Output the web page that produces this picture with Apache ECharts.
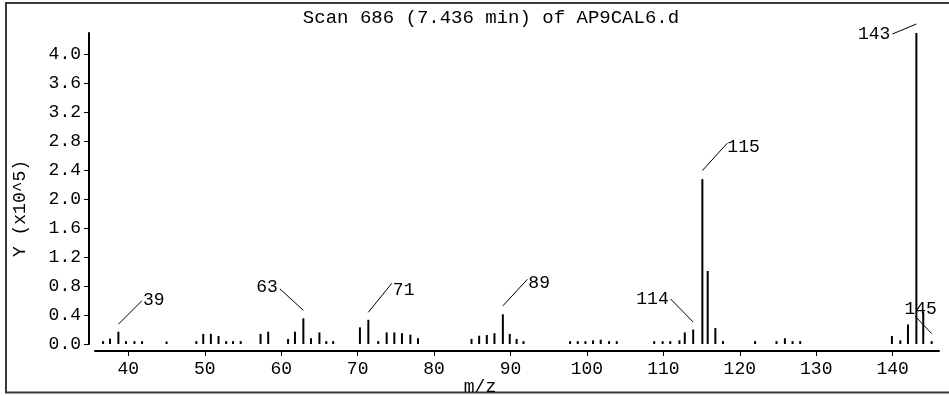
<!DOCTYPE html>
<html>
<head>
<meta charset="utf-8">
<script src="https://cdn.jsdelivr.net/npm/echarts@6/dist/echarts.min.js"></script>
<style>
html,body{margin:0;padding:0;background:#fff;}
#chart{width:949px;height:396px;}
</style>
</head>
<body>
<div id="chart"></div>
<script>
// ---- data ----
const mz = [36.7, 37.6, 38.7, 39.7, 40.8, 41.8, 45.0, 48.9, 49.8, 50.8, 51.8, 52.8, 53.7, 54.7,
  57.3, 58.3, 60.9, 61.8, 62.9, 63.9, 65.0, 65.9, 66.8,
  70.3, 71.4, 72.7, 73.8, 74.8, 75.8, 76.9, 77.9,
  84.9, 85.9, 86.9, 87.9, 89.0, 89.9, 90.8, 91.7,
  97.8, 98.8, 99.8, 100.8, 101.8, 102.9, 103.9,
  108.8, 109.9, 110.9, 112.1, 112.8, 113.9, 115.1, 115.8, 116.8, 117.8,
  122.0, 124.8, 125.9, 126.9, 127.9,
  139.9, 141.0, 142.0, 143.1, 144.0, 145.1];
const intensity = [0.04, 0.075, 0.17, 0.04, 0.04, 0.04, 0.035, 0.04, 0.14, 0.14, 0.11, 0.04, 0.04, 0.04,
  0.14, 0.17, 0.07, 0.17, 0.355, 0.08, 0.16, 0.04, 0.04,
  0.23, 0.335, 0.04, 0.16, 0.16, 0.15, 0.13, 0.08,
  0.07, 0.115, 0.125, 0.15, 0.41, 0.14, 0.07, 0.04,
  0.04, 0.04, 0.04, 0.05, 0.06, 0.04, 0.04,
  0.04, 0.04, 0.04, 0.05, 0.16, 0.2, 2.28, 1.01, 0.22, 0.04,
  0.04, 0.04, 0.08, 0.04, 0.04,
  0.11, 0.05, 0.27, 4.3, 0.44, 0.04];
const labelMz = [39, 63, 71, 89, 114, 115, 143, 145];
const labelText = ['39', '63', '71', '89', '114', '115', '143', '145'];
const xTickValues = [40, 50, 60, 70, 80, 90, 100, 110, 120, 130, 140];
const yTickValues = [0, 0.4, 0.8, 1.2, 1.6, 2.0, 2.4, 2.8, 3.2, 3.6, 4.0];
const titleText = 'Scan 686 (7.436 min) of AP9CAL6.d';
const xName = 'm/z';
const yName = 'Y (x10^5)';

// ---- label leader-line styling (pixel offsets from the peak top) ----
const leader = [
  {sy: -7.5, dx: 23.5, dy: -31, align: 'left', tx: 1, ty: 0},
  {sy: -8, dx: -23.5, dy: -29.5, align: 'right', tx: -2, ty: -2},
  {sy: -7.5, dx: 23.5, dy: -36.5, align: 'left', tx: 1, ty: 6.5},
  {sy: -8.5, dx: 24.5, dy: -35, align: 'left', tx: 1, ty: 4},
  {sy: -7.5, dx: -22.5, dy: -30.5, align: 'right', tx: -2, ty: 0},
  {sy: -8.5, dx: 25, dy: -36, align: 'left', tx: 0, ty: 4.5},
  {sy: -9, dx: -24, dy: 1, align: 'right', tx: -2, ty: 0},
  {sy: -7.5, dx: -16.5, dy: -25, align: 'center', tx: 5.5, ty: -6.5}
];

const FONT = '"Liberation Mono", "DejaVu Sans Mono", monospace';

const barData = mz.map((m, i) => [m, intensity[i]]);
const labelData = labelMz.map((lm, k) => {
  let best = 0, bd = Infinity;
  mz.forEach((m, i) => { const d = Math.abs(m - lm); if (d < bd) { bd = d; best = i; } });
  return [mz[best], intensity[best], k];
});

const chart = echarts.init(document.getElementById('chart'), null, {renderer: 'canvas'});
chart.setOption({
  animation: false,
  backgroundColor: '#fff',
  title: {
    text: titleText,
    left: 486, top: 3, textAlign: 'center',
    textStyle: {fontFamily: FONT, fontSize: 19, fontWeight: 'normal', color: '#000'}
  },
  grid: {left: 95, right: 10, top: 33, bottom: 52, containLabel: false, outerBoundsMode: 'none'},
  xAxis: {
    type: 'value', min: 35.64, max: 146.06, offset: 7,
    name: xName, nameLocation: 'middle', nameGap: 27, nameMoveOverlap: false,
    nameTextStyle: {fontFamily: FONT, fontSize: 18, color: '#000', padding: [0, 74, 0, 0]},
    axisLine: {show: true, onZero: false, lineStyle: {color: '#000', width: 2}},
    axisTick: {show: true, length: 5, customValues: xTickValues, lineStyle: {color: '#000', width: 1}},
    axisLabel: {customValues: xTickValues, margin: 9, fontFamily: FONT, fontSize: 18, color: '#000'},
    splitLine: {show: false}
  },
  yAxis: {
    type: 'value', min: 0, max: 4.3, offset: 6,
    name: yName, nameLocation: 'middle', nameGap: 60, nameRotate: 90, nameMoveOverlap: false,
    nameTextStyle: {fontFamily: FONT, fontSize: 18, color: '#000', padding: [0, 40, 0, 0]},
    axisLine: {show: true, lineStyle: {color: '#000', width: 2}},
    axisTick: {show: true, length: 5, customValues: yTickValues, lineStyle: {color: '#000', width: 1}},
    axisLabel: {customValues: yTickValues, margin: 8, fontFamily: FONT, fontSize: 18, color: '#000',
      formatter: v => v.toFixed(1)},
    splitLine: {show: false}
  },
  graphic: [{
    type: 'rect', shape: {x: 6, y: 3, width: 960, height: 389.5},
    style: {fill: 'none', stroke: '#3a3a3a', lineWidth: 2}, silent: true
  }],
  series: [{
    type: 'bar', data: barData, barWidth: 2,
    itemStyle: {color: '#000'}, silent: true
  }, {
    type: 'custom', data: labelData, clip: false, silent: true,
    encode: {x: 0, y: 1},
    renderItem: function (params, api) {
      const k = api.value(2);
      const L = leader[k];
      const p = api.coord([api.value(0), api.value(1)]);
      const sx = p[0], sy = p[1] + L.sy;
      const ex = p[0] + L.dx, ey = p[1] + L.dy;
      return {
        type: 'group',
        children: [
          {type: 'line', shape: {x1: sx, y1: sy, x2: ex, y2: ey}, style: {stroke: '#000', lineWidth: 1}},
          {type: 'text', x: ex + L.tx, y: ey + L.ty,
            style: {text: labelText[k], fill: '#000', fontFamily: FONT, fontSize: 18,
              align: L.align, verticalAlign: 'middle'}}
        ]
      };
    }
  }]
});
</script>
</body>
</html>
